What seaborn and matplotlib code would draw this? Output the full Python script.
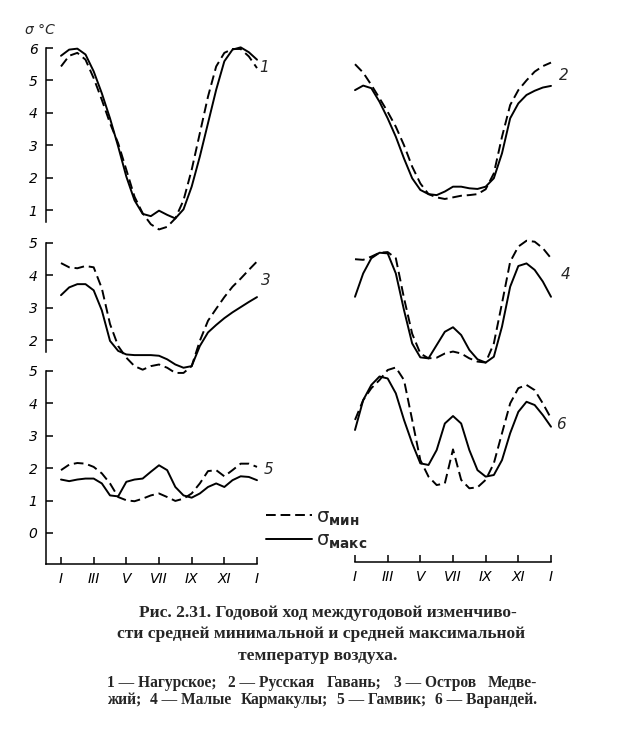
# Annual course of interannual variability of mean min / max air temperature
# (six stations, two columns of stacked panels)

import matplotlib
matplotlib.use("Agg")
import matplotlib.pyplot as plt
import seaborn as sns
from matplotlib.lines import Line2D

# ---------------------------
# Data (sigma, deg C), read every half month, Jan .. next Jan
# ---------------------------

MONTHS = [1, 1.5, 2, 2.5, 3, 3.5, 4, 4.5, 5, 5.5, 6, 6.5, 7,
          7.5, 8, 8.5, 9, 9.5, 10, 10.5, 11, 11.5, 12, 12.5, 13]

MONTH_TICKS = [1, 3, 5, 7, 9, 11, 13]
MONTH_LABELS = ["I", "III", "V", "VII", "IX", "XI", "I"]

# 1 - Nagurskoe
s1_max = [5.76, 5.95, 5.98, 5.8, 5.28, 4.6, 3.83, 2.96, 2.03, 1.3, 0.88, 0.81, 0.98,
          0.85, 0.74, 1.02, 1.72, 2.65, 3.68, 4.71, 5.59, 5.95, 6.02, 5.87, 5.64]
s1_min = [5.43, 5.76, 5.85, 5.64, 5.07, 4.4, 3.68, 3.06, 2.24, 1.41, 0.9, 0.56, 0.4,
          0.48, 0.74, 1.3, 2.24, 3.37, 4.5, 5.43, 5.85, 5.97, 5.97, 5.74, 5.38]

# 2 - Russkaya Gavan
s2_max = [4.7, 4.84, 4.76, 4.34, 3.83, 3.26, 2.59, 1.98, 1.62, 1.49, 1.46, 1.57, 1.72,
          1.72, 1.67, 1.65, 1.72, 1.98, 2.75, 3.83, 4.29, 4.55, 4.68, 4.78, 4.83]
s2_min = [5.5, 5.24, 4.86, 4.45, 4.03, 3.57, 3.0, 2.34, 1.82, 1.49, 1.39, 1.34, 1.39,
          1.44, 1.46, 1.49, 1.64, 2.13, 3.26, 4.24, 4.7, 5.0, 5.27, 5.44, 5.55]

# 3 - Ostrov Medvezhiy
s3_max = [3.39, 3.63, 3.73, 3.73, 3.54, 2.92, 1.98, 1.67, 1.56, 1.54, 1.54, 1.54, 1.52,
          1.41, 1.25, 1.15, 1.2, 1.82, 2.24, 2.47, 2.68, 2.86, 3.02, 3.18, 3.33]
s3_min = [4.38, 4.25, 4.22, 4.29, 4.25, 3.6, 2.5, 1.82, 1.46, 1.2, 1.09, 1.2, 1.25,
          1.15, 0.99, 0.99, 1.2, 1.98, 2.6, 2.97, 3.33, 3.65, 3.9, 4.17, 4.43]

# 4 - Malye Karmakuly
s4_max = [3.34, 4.06, 4.53, 4.7, 4.68, 4.06, 2.93, 1.9, 1.47, 1.44, 1.85, 2.26, 2.4,
          2.16, 1.7, 1.41, 1.31, 1.49, 2.42, 3.65, 4.29, 4.37, 4.17, 3.81, 3.34]
s4_min = [4.5, 4.48, 4.58, 4.7, 4.72, 4.53, 3.3, 2.2, 1.59, 1.44, 1.46, 1.59, 1.65,
          1.59, 1.44, 1.34, 1.31, 1.9, 3.14, 4.42, 4.89, 5.07, 5.04, 4.84, 4.53]

# 5 - Gamvik
s5_max = [1.65, 1.6, 1.65, 1.68, 1.68, 1.53, 1.16, 1.13, 1.58, 1.65, 1.68, 1.89, 2.09,
          1.94, 1.42, 1.16, 1.09, 1.22, 1.42, 1.53, 1.42, 1.63, 1.75, 1.73, 1.63]
s5_min = [1.94, 2.11, 2.16, 2.14, 2.04, 1.84, 1.53, 1.11, 1.01, 0.98, 1.06, 1.16, 1.22,
          1.11, 0.99, 1.06, 1.22, 1.53, 1.91, 1.94, 1.75, 1.94, 2.14, 2.14, 2.04]

# 6 - Varandey
s6_max = [3.18, 4.1, 4.57, 4.83, 4.77, 4.31, 3.49, 2.77, 2.15, 2.1, 2.56, 3.38, 3.61,
          3.38, 2.56, 1.94, 1.74, 1.79, 2.25, 3.08, 3.74, 4.05, 3.95, 3.64, 3.28]
s6_min = [3.49, 4.1, 4.47, 4.72, 5.03, 5.11, 4.72, 3.49, 2.25, 1.74, 1.48, 1.53, 2.58,
          1.64, 1.38, 1.41, 1.64, 2.15, 3.08, 4.0, 4.47, 4.57, 4.41, 4.0, 3.54]

Y_TICKS_1 = [1, 2, 3, 4, 5, 6]
Y_TICKS_3 = [2, 3, 4, 5]
Y_TICKS_5 = [0, 1, 2, 3, 4, 5]

# ---------------------------
# Figure setup
# ---------------------------

sns.set_theme(style="white")
plt.rcParams["font.family"] = ["DejaVu Sans"]

W, H = 627, 734
fig = plt.figure(figsize=(W / 100, H / 100), dpi=100)
fig.patch.set_facecolor("white")

PX_UNIT = 32.4      # pixels per 1 deg C
PX_MONTH = 16.33    # pixels per month
LW = 1.4


def px_axes(left, right, top, bottom):
    # axes box given in pixels from the top left corner
    ax = fig.add_axes([left / W, 1 - bottom / H, (right - left) / W, (bottom - top) / H])
    ax.patch.set_alpha(0)
    for s in ["top", "right", "left", "bottom"]:
        ax.spines[s].set_visible(False)
    ax.set_xticks([])
    ax.set_yticks([])
    return ax


def draw_curves(ax, smin, smax):
    sns.lineplot(x=MONTHS, y=smax, ax=ax, color="black", lw=LW, clip_on=False)
    sns.lineplot(x=MONTHS, y=smin, ax=ax, color="black", lw=LW, clip_on=False)
    ax.lines[-1].set_dashes([5, 2.5])


def left_axis(ax, ticks):
    ax.spines["left"].set_visible(True)
    ax.spines["left"].set_color("black")
    ax.spines["left"].set_linewidth(1.1)
    ax.set_yticks(ticks)
    ax.set_yticklabels([str(t) for t in ticks], fontstyle="italic", fontsize=10)
    ax.tick_params(axis="y", direction="in", length=5, width=1.1, pad=6,
                   left=True, colors="black")


def month_axis(ax):
    ax.spines["bottom"].set_visible(True)
    ax.spines["bottom"].set_color("black")
    ax.spines["bottom"].set_linewidth(1.1)
    ax.set_xticks(MONTH_TICKS)
    ax.set_xticklabels(MONTH_LABELS, fontstyle="italic", fontsize=10)
    ax.tick_params(axis="x", direction="in", length=5, width=1.1, pad=6,
                   bottom=True, colors="black")


# left column: x from 46 px, Jan at 61 px
lx0 = 1 - (61 - 46) / PX_MONTH

ax1 = px_axes(46, 257, 48, 222)
ax1.set_xlim(lx0, 13)
ax1.set_ylim(6 - (222 - 48) / PX_UNIT, 6)
draw_curves(ax1, s1_min, s1_max)
left_axis(ax1, Y_TICKS_1)

ax3 = px_axes(46, 257, 243, 352)
ax3.set_xlim(lx0, 13)
ax3.set_ylim(5 - (352 - 243) / PX_UNIT, 5)
draw_curves(ax3, s3_min, s3_max)
left_axis(ax3, Y_TICKS_3)

ax5 = px_axes(46, 257, 371, 564)
ax5.set_xlim(lx0, 13)
ax5.set_ylim(5 - (564 - 371) / PX_UNIT, 5)
draw_curves(ax5, s5_min, s5_max)
left_axis(ax5, Y_TICKS_5)
month_axis(ax5)

# right column: no y axis, same vertical scales
ax2 = px_axes(355, 551, 48, 222)
ax2.set_xlim(1, 13)
ax2.set_ylim(6 - (222 - 48) / PX_UNIT, 6)
draw_curves(ax2, s2_min, s2_max)

ax4 = px_axes(355, 551, 243, 352)
ax4.set_xlim(1, 13)
ax4.set_ylim(5 - (352 - 243) / PX_UNIT, 5)
draw_curves(ax4, s4_min, s4_max)

ax6 = px_axes(355, 551, 371, 562)
ax6.set_xlim(1, 13)
ax6.set_ylim(5 - (562 - 371) / PX_UNIT, 5)
draw_curves(ax6, s6_min, s6_max)
month_axis(ax6)

for ax in [ax1, ax2, ax3, ax4, ax5, ax6]:
    ax.set_xlabel("")
    ax.set_ylabel("")

# ---------------------------
# Labels, legend, caption
# ---------------------------

def ftext(x, y, s, **kw):
    return fig.text(x / W, 1 - y / H, s, **kw)


ftext(40, 30, "σ °C", fontsize=10, fontstyle="italic", ha="center", va="center")

for num, (x, y) in zip(["1", "2", "3", "4", "5", "6"],
                       [(264, 68), (564, 76), (266, 281), (566, 274), (269, 470), (561, 425)]):
    ftext(x, y, num, fontsize=11, fontstyle="italic", ha="center", va="center")

handles = [Line2D([0], [0], color="black", lw=LW, dashes=[5, 2.5]),
           Line2D([0], [0], color="black", lw=LW)]
labels = [r"σ$_{\mathbf{мин}}$", r"σ$_{\mathbf{макс}}$"]
fig.legend(handles, labels, loc="center left",
           bbox_to_anchor=(258 / W, 1 - 529 / H), frameon=False,
           fontsize=14, handlelength=2.4, handletextpad=0.2, labelspacing=0.15,
           borderaxespad=0)

cap = dict(family="Liberation Serif", fontweight="bold", va="center")
ftext(328, 613, "Рис. 2.31. Годовой ход междугодовой изменчиво-",
      fontsize=12.6, ha="center", **cap)
ftext(321, 634, "сти средней минимальной и средней максимальной",
      fontsize=12.6, ha="center", **cap)
ftext(318, 656, "температур воздуха.", fontsize=12.6, ha="center", **cap)

# last two lines are justified between 107 and 537 px
renderer = fig.canvas.get_renderer()


def justify(words, y, x0, x1, size):
    items = [ftext(x0, y, w, fontsize=size, ha="left", **cap) for w in words]
    widths = [t.get_window_extent(renderer).width for t in items]
    gap = (x1 - x0 - sum(widths)) / (len(words) - 1)
    x = x0
    for t, w in zip(items, widths):
        t.set_x(x / W)
        x += w + gap


justify(["1 — Нагурское;", "2 — Русская", "Гавань;", "3 — Остров", "Медве-"],
        683, 107, 537, 11.2)
justify(["жий;", "4 — Малые", "Кармакулы;", "5 — Гамвик;", "6 — Варандей."],
        700, 107, 537, 11.2)

plt.savefig("out.png", dpi=100, facecolor="white")
print("saved")
